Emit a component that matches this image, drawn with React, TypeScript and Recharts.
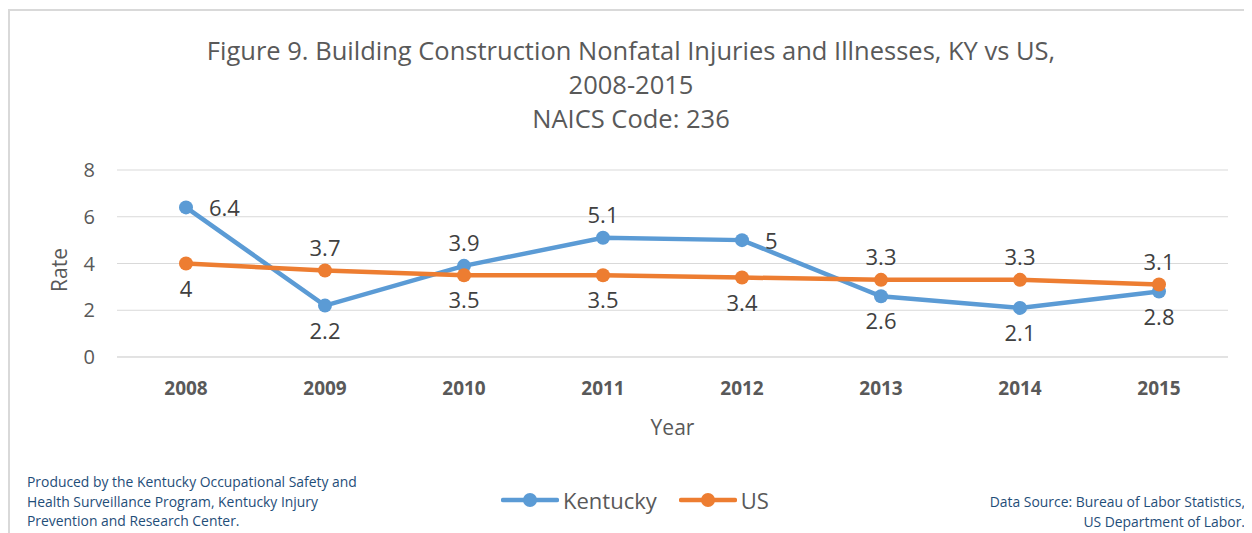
import React from 'react';
import { LineChart, Line, XAxis, YAxis, CartesianGrid, LabelList } from 'recharts';

const years = ['2008', '2009', '2010', '2011', '2012', '2013', '2014', '2015'];
const kentucky = [6.4, 2.2, 3.9, 5.1, 5, 2.6, 2.1, 2.8];
const us = [4, 3.7, 3.5, 3.5, 3.4, 3.3, 3.3, 3.1];
const yTicks = [0, 2, 4, 6, 8];

// where each data label sits relative to its point
const kyLabelPos = ['right', 'below', 'above', 'above', 'right', 'below', 'below', 'below'];
const usLabelPos = ['below', 'above', 'below', 'below', 'below', 'above', 'above', 'above'];

const KY_COLOR = '#5b9bd5';
const US_COLOR = '#ed7d31';
const FONT = '"Open Sans", Lato, sans-serif';

const data = years.map((year, i) => ({ year, Kentucky: kentucky[i], US: us[i] }));

const makeLabel = (positions: string[]) => (props: any) => {
  const { x, y, value, index } = props;
  const pos = positions[index];
  let tx = x;
  let ty = y;
  let anchor: 'start' | 'middle' = 'middle';
  if (pos === 'right') {
    tx = x + 23;
    anchor = 'start';
  } else if (pos === 'above') {
    ty = y - 24;
  } else {
    ty = y + 24;
  }
  return (
    <text x={tx} y={ty} textAnchor={anchor} dominantBaseline="central" fill="#404040" fontSize={22} fontFamily={FONT}>
      {value}
    </text>
  );
};

const legendItems = [
  { name: 'Kentucky', color: KY_COLOR },
  { name: 'US', color: US_COLOR },
];

export default function App() {
  return (
    <div
      style={{
        position: 'relative',
        width: 1244,
        height: 525,
        marginTop: 1,
        borderTop: '2px solid #d9d9d9',
        borderLeft: '2px solid #d9d9d9',
        boxSizing: 'border-box',
        fontFamily: FONT,
        background: '#fff',
      }}
    >
      <div
        style={{
          position: 'absolute',
          top: 22,
          left: 0,
          width: 1242,
          textAlign: 'center',
          fontSize: 25.5,
          lineHeight: '34px',
          color: '#595959',
          zIndex: 1,
        }}
      >
        <div>Figure 9. Building Construction Nonfatal Injuries and Illnesses, KY vs US,</div>
        <div>2008-2015</div>
        <div>NAICS Code: 236</div>
      </div>
      <LineChart width={1242} height={522} data={data} margin={{ top: 159, right: 24, bottom: 116, left: 47 }}>
        <CartesianGrid vertical={false} stroke="#d9d9d9" strokeWidth={1} />
        <XAxis
          dataKey="year"
          height={60}
          padding={{ left: 69, right: 69 }}
          tickLine={false}
          tickSize={0}
          tickMargin={25}
          axisLine={{ stroke: '#d9d9d9' }}
          tick={{ fill: '#595959', fontSize: 19, fontWeight: 700, fontFamily: FONT }}
          label={(p: any) => (
            <text x={p.viewBox.x + p.viewBox.width / 2} y={p.viewBox.y + 78} textAnchor="middle" fill="#595959" fontSize={21} fontFamily={FONT}>
              Year
            </text>
          )}
        />
        <YAxis
          domain={[0, 8]}
          ticks={yTicks}
          width={60}
          tickLine={false}
          tickSize={0}
          tickMargin={22}
          axisLine={false}
          tick={{ fill: '#595959', fontSize: 20, fontFamily: FONT }}
          label={() => (
            <text
              x={57}
              y={259}
              transform="rotate(-90 57 259)"
              textAnchor="middle"
              fill="#595959"
              fontSize={21}
              fontFamily={FONT}
            >
              Rate
            </text>
          )}
        />
        <Line
          type="linear"
          dataKey="Kentucky"
          stroke={KY_COLOR}
          strokeWidth={4.5}
          dot={{ r: 7, fill: KY_COLOR, stroke: KY_COLOR, strokeWidth: 0 }}
          activeDot={false}
          isAnimationActive={false}
        >
          <LabelList dataKey="Kentucky" content={makeLabel(kyLabelPos)} />
        </Line>
        <Line
          type="linear"
          dataKey="US"
          stroke={US_COLOR}
          strokeWidth={4.5}
          dot={{ r: 7, fill: US_COLOR, stroke: US_COLOR, strokeWidth: 0 }}
          activeDot={false}
          isAnimationActive={false}
        >
          <LabelList dataKey="US" content={makeLabel(usLabelPos)} />
        </Line>
      </LineChart>
      <div
        style={{
          position: 'absolute',
          top: 474,
          left: 0,
          width: 1250,
          display: 'flex',
          justifyContent: 'center',
          alignItems: 'center',
          fontSize: 22,
          color: '#595959',
        }}
      >
        {legendItems.map((s, i) => (
          <div key={s.name} style={{ display: 'flex', alignItems: 'center', marginLeft: i > 0 ? 22 : 0 }}>
            <svg width={58} height={16} style={{ marginRight: 4 }}>
              <line x1={2} y1={8} x2={56} y2={8} stroke={s.color} strokeWidth={4.5} strokeLinecap="round" />
              <circle cx={29} cy={8} r={7} fill={s.color} />
            </svg>
            <span>{s.name}</span>
          </div>
        ))}
      </div>
      <div
        style={{
          position: 'absolute',
          top: 461,
          left: 17,
          fontSize: 13.9,
          lineHeight: '19.5px',
          color: '#1f4e79',
          whiteSpace: 'nowrap',
        }}
      >
        Produced by the Kentucky Occupational Safety and
        <br />
        Health Surveillance Program, Kentucky Injury
        <br />
        Prevention and Research Center.
      </div>
      <div
        style={{
          position: 'absolute',
          top: 481,
          right: 7,
          textAlign: 'right',
          fontSize: 13.9,
          lineHeight: '19.5px',
          color: '#1f4e79',
          whiteSpace: 'nowrap',
        }}
      >
        Data Source: Bureau of Labor Statistics,
        <br />
        US Department of Labor.
      </div>
    </div>
  );
}
